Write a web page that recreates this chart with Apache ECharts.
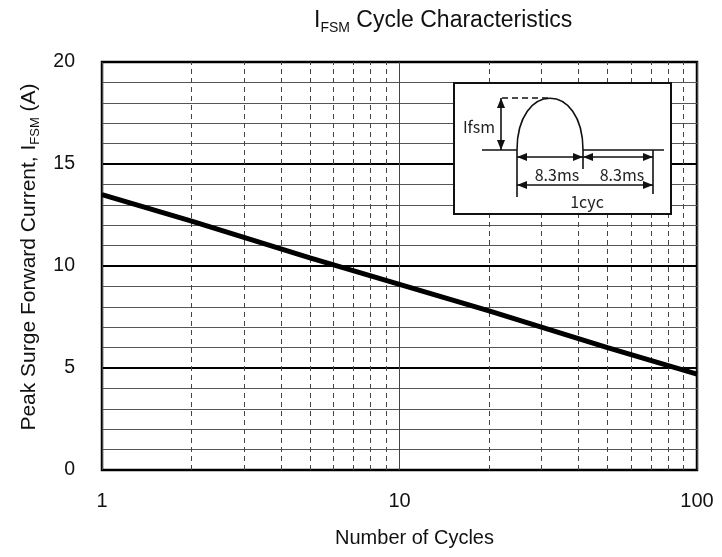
<!DOCTYPE html>
<html>
<head>
<meta charset="utf-8">
<script src="https://cdn.jsdelivr.net/npm/echarts@6/dist/echarts.min.js"></script>
<style>
  html, body { margin: 0; padding: 0; background: #fff; }
  #chart { width: 722px; height: 557px; }
</style>
</head>
<body>
<div id="chart"></div>
<script>
// data
const cycles = [1, 2, 5, 10, 20, 50, 100]
const ifsm = [13.5, 12.2, 10.4, 9.1, 7.8, 6.0, 4.7]
const minorCycles = [2, 3, 4, 5, 6, 7, 8, 9, 20, 30, 40, 50, 60, 70, 80, 90]
const xTicks = ['1', '10', '100']

const font = '"Liberation Sans", Arial, sans-serif'
const insetFont = '"Noto Sans CJK JP", "DejaVu Sans", sans-serif'

const chart = echarts.init(document.getElementById('chart'))

// arrow head helper for the inset sketch
const head = (x, y, dx, dy) => {
  const len = 10, hw = 4
  const px = -dy, py = dx
  return {
    type: 'polygon',
    shape: { points: [[x, y], [x - dx * len + px * hw, y - dy * len + py * hw], [x - dx * len - px * hw, y - dy * len - py * hw]] },
    style: { fill: '#111' }
  }
}
const line = (x1, y1, x2, y2, extra) => ({
  type: 'line',
  shape: { x1, y1, x2, y2 },
  style: Object.assign({ stroke: '#111', lineWidth: 1.6 }, extra || {})
})
const dblArrow = (x1, y1, x2, y2) => {
  const L = Math.hypot(x2 - x1, y2 - y1)
  const dx = (x2 - x1) / L, dy = (y2 - y1) / L
  return [line(x1, y1, x2, y2), head(x2, y2, dx, dy), head(x1, y1, -dx, -dy)]
}
const txt = (x, y, s) => ({
  type: 'text',
  x, y,
  style: { text: s, font: '16px ' + insetFont, fill: '#222', align: 'center', verticalAlign: 'middle' }
})

const insetParts = [
  { type: 'rect', shape: { x: 0, y: 0, width: 217, height: 131 }, style: { fill: '#fff', stroke: '#111', lineWidth: 2 } },
  line(28, 67, 63, 67),
  line(63, 67, 63, 114),
  {
    type: 'bezierCurve',
    shape: { x1: 63, y1: 67, cpx1: 63, cpy1: -2, cpx2: 129, cpy2: -2, x2: 129, y2: 67 },
    style: { fill: null, stroke: '#111', lineWidth: 1.6 }
  },
  line(48, 15, 96, 15, { lineDash: [6, 4] }),
  ...dblArrow(47, 15, 47, 67),
  txt(25, 44, 'Ifsm'),
  line(129, 67, 210, 67),
  line(129, 67, 129, 86),
  line(199, 67, 199, 111),
  ...dblArrow(63, 74, 129, 74),
  ...dblArrow(129, 74, 199, 74),
  txt(103, 92, '8.3ms'),
  txt(168, 92, '8.3ms'),
  ...dblArrow(63, 102, 199, 102),
  txt(133, 119, '1cyc')
]

const inset = {
  type: 'group',
  x: 454,
  y: 83,
  z: 100,
  children: insetParts.map((p, i) => Object.assign({ z: 100, zlevel: 0 }, p))
}

const option = {
  backgroundColor: '#fff',
  animation: false,
  title: {
    text: '{a|I}{s|FSM}{a| Cycle Characteristics}',
    left: 309,
    top: 4,
    textStyle: {
      rich: {
        a: { fontFamily: font, fontSize: 23, fontWeight: 'normal', color: '#111', verticalAlign: 'bottom' },
        s: { fontFamily: font, fontSize: 14, fontWeight: 'normal', color: '#111', verticalAlign: 'bottom', padding: [0, 0, -3, 0] }
      }
    }
  },
  grid: {
    left: 102,
    right: 25,
    top: 62,
    bottom: 87,
    show: true,
    borderColor: '#000',
    borderWidth: 2.5,
    backgroundColor: 'transparent'
  },
  xAxis: {
    type: 'log',
    logBase: 10,
    min: 1,
    max: 100,
    name: 'Number of Cycles',
    nameLocation: 'middle',
    nameGap: 58,
    nameTextStyle: { fontFamily: font, fontSize: 20, color: '#111', padding: [0, 0, 0, 30] },
    axisLine: { show: false },
    axisTick: { show: false },
    axisLabel: {
      fontFamily: font,
      fontSize: 20,
      color: '#111',
      margin: 21,
      formatter: (v) => xTicks.find(t => Number(t) === Math.round(v)) || ''
    },
    splitLine: { show: true, lineStyle: { color: '#444', width: 1 } }
  },
  yAxis: {
    type: 'value',
    min: 0,
    max: 20,
    interval: 5,
    name: '{a|Peak Surge Forward Current, I}{s|FSM}{a| (A)}',
    nameLocation: 'middle',
    nameGap: 58,
    nameTextStyle: {
      padding: [0, 0, 0, 18],
      rich: {
        a: { fontFamily: font, fontSize: 21, color: '#111', verticalAlign: 'bottom' },
        s: { fontFamily: font, fontSize: 13, color: '#111', verticalAlign: 'bottom', padding: [0, 0, -3, 0] }
      }
    },
    axisLine: { show: false },
    axisTick: { show: false },
    axisLabel: { fontFamily: font, fontSize: 19.5, color: '#111', margin: 27 },
    splitLine: { show: true, lineStyle: { color: '#000', width: 2.2 } },
    minorTick: { show: false, splitNumber: 5 },
    minorSplitLine: { show: true, lineStyle: { color: '#555', width: 1 } }
  },
  graphic: [inset],
  series: [
    {
      type: 'line',
      silent: true,
      data: [],
      markLine: {
        silent: true,
        symbol: 'none',
        label: { show: false },
        lineStyle: { color: '#444', width: 1, type: [5, 4] },
        data: minorCycles.map(c => ({ xAxis: c }))
      }
    },
    {
      type: 'line',
      data: cycles.map((c, i) => [c, ifsm[i]]),
      showSymbol: false,
      symbol: 'none',
      lineStyle: { color: '#000', width: 5 },
      z: 10
    }
  ]
}

chart.setOption(option)
</script>
</body>
</html>
